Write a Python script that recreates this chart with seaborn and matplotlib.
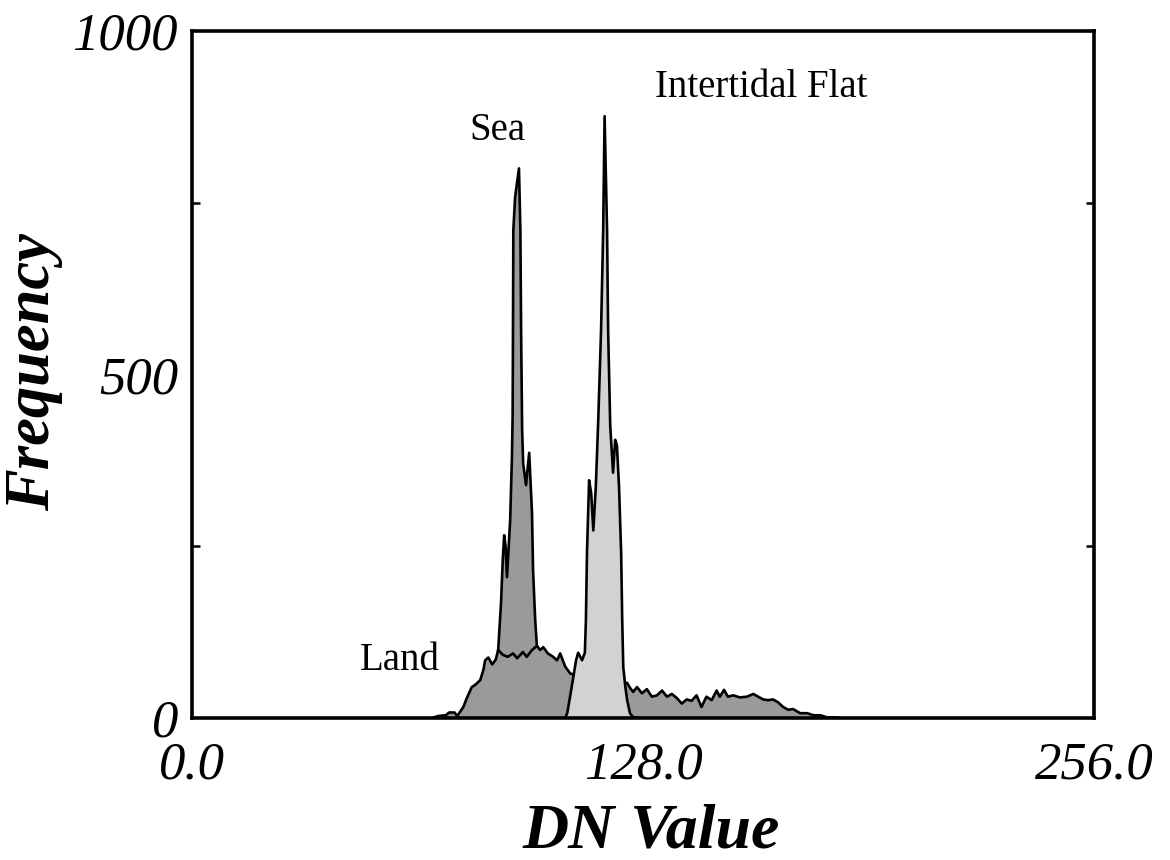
import matplotlib
matplotlib.use("Agg")
import matplotlib.pyplot as plt
import seaborn as sns
import pandas as pd

# ---- data (DN value, frequency) ----
land_dn = [68.0, 70.0, 72.0, 73.0, 74.5, 75.3, 77.0, 78.0, 79.4, 80.3, 81.8, 82.7, 83.2, 84.1,
           85.2, 86.2, 86.9, 88.2, 89.6, 91.1, 92.3, 93.9, 95.0, 96.5, 97.9, 98.8, 99.7, 101.0,
           102.5, 103.6, 104.5, 105.9, 107.3, 110.0, 115.0, 120.0, 123.5, 124.3, 125.2, 126.3,
           127.7, 129.1, 130.5, 132.0, 133.4, 134.8, 136.2, 137.6, 139.0, 140.4, 141.8, 143.2,
           144.6, 146.0, 147.5, 148.9, 149.8, 151.0, 152.1, 153.6, 155.5, 157.5, 159.3, 160.7,
           162.1, 163.5, 164.9, 166.3, 167.8, 169.2, 170.6, 172.6, 174.6, 176.4, 178.3, 180.2,
           182.0, 184.0]
land_freq = [0, 3, 4, 8, 8, 3, 16, 29, 45, 48, 55, 70, 84, 88,
             78, 85, 99, 92, 89, 94, 87, 96, 89, 99, 105, 99, 103, 94,
             89, 84, 94, 75, 65, 60, 55, 52, 51, 44, 38, 45,
             36, 42, 31, 33, 40, 31, 35, 29, 21, 27, 25, 33,
             16, 31, 26, 40, 31, 41, 31, 33, 30, 31, 35, 31,
             27, 26, 27, 23, 16, 12, 13, 7, 7, 4, 4, 1,
             1, 0]

sea_dn = [86.8, 86.9, 87.7, 88.2, 88.6, 89.0, 89.4, 90.3, 90.8, 91.0, 91.1, 91.2, 91.7, 92.8,
          93.2, 93.4, 93.7, 94.0, 94.8, 95.7, 96.5, 96.8, 97.4, 97.9, 98.0]
sea_freq = [0, 99, 167, 230, 266, 250, 205, 288, 380, 440, 565, 710, 758, 800,
            710, 565, 419, 370, 339, 386, 298, 215, 143, 103, 0]

flat_dn = [105.9, 106.5, 107.3, 108.4, 109.0, 109.6, 110.7, 111.5, 111.8, 112.1, 112.7, 113.3,
           113.9, 114.6, 115.3, 116.1, 116.7, 117.1, 117.8, 118.1, 118.7, 119.5, 120.1, 120.6,
           121.2, 121.8, 122.1, 122.4, 123.0, 123.5, 124.3, 125.2, 127.0]
flat_freq = [0, 7, 31, 65, 84, 95, 84, 95, 143, 240, 346, 327,
             273, 336, 434, 565, 710, 876, 710, 565, 425, 357, 405, 397,
             336, 240, 143, 74, 45, 26, 7, 1, 0]

x_ticks = [0, 128, 256]
x_tick_labels = ["0.0", "128.0", "256.0"]
y_ticks = [0, 500, 1000]
y_tick_labels = ["0", "500", "1000"]

sns.set_theme(style="white")
plt.rcParams["font.family"] = ["Liberation Serif", "DejaVu Serif"]
plt.rcParams["text.color"] = "black"
plt.rcParams["xtick.color"] = "black"
plt.rcParams["ytick.color"] = "black"
plt.rcParams["xtick.labelcolor"] = "black"
plt.rcParams["ytick.labelcolor"] = "black"

fig = plt.figure(figsize=(11.7, 8.6), dpi=100)
ax = fig.add_axes([192 / 1170, 1 - 718 / 860, (1094 - 192) / 1170, (718 - 31) / 860])

dark = "#9a9a9a"
light = "#d2d2d2"

series = [
    (sea_dn, sea_freq, dark, 2),
    (land_dn, land_freq, dark, 3),
    (flat_dn, flat_freq, light, 4),
]
for dn, fq, col, z in series:
    df = pd.DataFrame({"dn": dn, "freq": fq})
    ax.fill_between(df["dn"], 0, df["freq"], color=col, linewidth=0, zorder=z)
    sns.lineplot(data=df, x="dn", y="freq", ax=ax, color="black", linewidth=1.9,
                 estimator=None, sort=False, zorder=z + 0.5)

ax.set_xlim(0, 256)
ax.set_ylim(0, 1000)
ax.set_xticks(x_ticks)
ax.set_xticklabels(x_tick_labels, fontsize=38, style="italic", color="black")
ax.set_yticks(y_ticks)
ax.set_yticklabels(y_tick_labels, fontsize=38, style="italic", color="black")
ax.set_xticks([128], minor=True)
ax.set_yticks([250, 750], minor=True)
ax.tick_params(which="major", length=0, pad=10, colors="black")
ax.tick_params(axis="x", which="major", pad=17)
ax.tick_params(which="minor", direction="in", length=6, width=1.8, color="black",
               left=True, right=True, top=True, bottom=False)
ax.set_xlabel("")
ax.set_ylabel("")
for s in ax.spines.values():
    s.set_visible(True)
    s.set_color("black")
    s.set_linewidth(2.6)
    s.set_zorder(10)

ax.text(86.6, 841, "Sea", fontsize=28, ha="center", va="baseline", color="black")
ax.text(131.4, 904, "Intertidal Flat", fontsize=28, ha="left", va="baseline", color="black")
ax.text(47.7, 70, "Land", fontsize=28, ha="left", va="baseline", color="black")

fig.text(651 / 1170, 1 - 847 / 860, "DN Value", fontsize=46, fontweight="bold",
         style="italic", ha="center", va="baseline", color="black")
fig.text(49 / 1170, 1 - 372 / 860, "Frequency", fontsize=45, fontweight="bold",
         style="italic", ha="center", va="baseline", rotation=90, rotation_mode="anchor",
         color="black")

fig.savefig("out.png", dpi=100, facecolor="white")
